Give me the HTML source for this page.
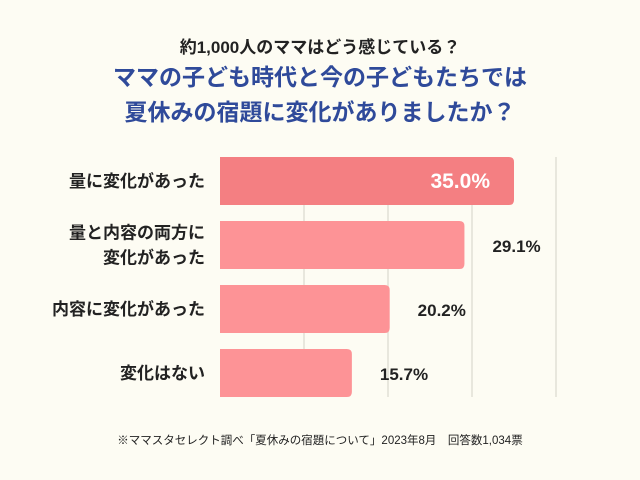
<!DOCTYPE html>
<html><head><meta charset="utf-8">
<style>
html,body{margin:0;padding:0}
body{width:640px;height:480px;background:#fdfcf3;position:relative;overflow:hidden;font-family:"Liberation Sans","Noto Sans CJK JP",sans-serif}
.t{position:absolute;left:0;width:640px;text-align:center;font-weight:bold;white-space:nowrap}
</style></head><body>
<div class="t" style="top:33px;font-size:17px;color:#222">約1,000人のママはどう感じている？</div>
<div class="t" style="top:60px;font-size:23px;line-height:35px;color:#2f4a9a">ママの子ども時代と今の子どもたちでは<br>夏休みの宿題に変化がありましたか？</div>
<svg id="chart" width="640" height="480" style="position:absolute;left:0;top:0"></svg>
<div class="t" style="top:432px;font-size:11.5px;color:#222;font-weight:normal">※ママスタセレクト調べ「夏休みの宿題について」2023年8月　回答数1,034票</div>
<script>
const categories=[["量に変化があった"],["量と内容の両方に","変化があった"],["内容に変化があった"],["変化はない"]];
const values=[35.0,29.1,20.2,15.7];
const labels=["35.0%","29.1%","20.2%","15.7%"];
const gridTicks=[10,20,30,40];
const svg=document.getElementById('chart');
const NS='http://www.w3.org/2000/svg';
const x0=220,pxPer=8.4,yTop=157,step=64,bh=48;
const xs=v=>x0+v*pxPer;
const ys=i=>yTop+i*step;
function mk(t,a){const e=document.createElementNS(NS,t);for(const k in a)e.setAttribute(k,a[k]);svg.appendChild(e);return e;}
gridTicks.forEach(g=>{
 const l=mk('line',{x1:xs(g),x2:xs(g),y1:157,y2:397,stroke:'#e2e0d6','stroke-width':1.5});
 
 
});
values.forEach((v,i)=>{
 const y=ys(i);
 const r=mk('path',{d:`M${x0} ${y}H${xs(v)-5}Q${xs(v)} ${y} ${xs(v)} ${y+5}V${y+bh-5}Q${xs(v)} ${y+bh} ${xs(v)-5} ${y+bh}H${x0}Z`,fill:i===0?'#f47f82':'#fd9396'});
 
 
 const inside=i===0;
 const t=mk('text',{x:inside?xs(v)-24:xs(v)+28,y:y+bh/2+7,'text-anchor':inside?'end':'start','font-size':inside?21:17,'font-weight':'bold',fill:inside?'#fff':'#222'});
 t.textContent=labels[i];
 
 
 const lines=categories[i];
 lines.forEach((s,j)=>{
  const c=mk('text',{x:205,y:y+bh/2+6+(j-(lines.length-1)/2)*25,'text-anchor':'end','font-size':17,'font-weight':'bold',fill:'#222'});
  c.textContent=s;
  
  
 });
});
</script>
</body></html>
